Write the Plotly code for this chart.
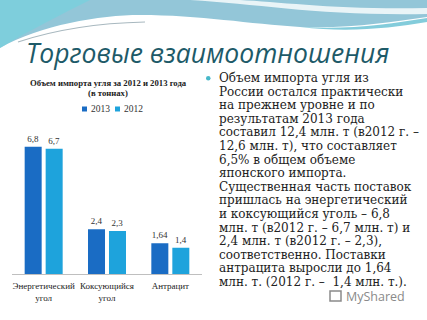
import plotly.graph_objects as go

W, H = 427, 320

categories = ["Энергетический<br>угол", "Коксующийся<br>угол", "Антрацит"]
series_names = ["2013", "2012"]
values_2013 = [6.8, 2.4, 1.64]
values_2012 = [6.7, 2.3, 1.4]
colors = ["#1a6cc4", "#1ea3dc"]

chart_title = ["Объем импорта угля за 2012 и 2013 года", "(в тоннах)"]
slide_title = "Торговые взаимоотношения"
body_lines = [
    "Объем импорта угля из",
    "России остался практически",
    "на прежнем уровне и по",
    "результатам 2013 года",
    "составил 12,4 млн. т (в2012 г. –",
    "12,6 млн. т), что составляет",
    "6,5% в общем объеме",
    "японского импорта.",
    "Существенная часть поставок",
    "пришлась на энергетический",
    "и коксующийся уголь – 6,8",
    "млн. т (в2012 г. – 6,7 млн. т) и",
    "2,4 млн. т (в2012 г. – 2,3),",
    "соответственно. Поставки",
    "антрацита выросли до 1,64",
    "млн. т. (2012 г. –  1,4 млн. т.).",
]


def px(x):
    return x / W


def py(y):
    return 1 - y / H


def fmt(v):
    return str(v).replace(".", ",")


fig = go.Figure()
for name, vals, col in zip(series_names, [values_2013, values_2012], colors):
    fig.add_trace(go.Bar(
        x=categories, y=vals, name=name, marker=dict(color=col, line=dict(width=0)),
        text=[fmt(v) for v in vals], textposition="outside", cliponaxis=False,
        textfont=dict(family="Liberation Serif", size=9, color="#333333"),
        showlegend=False,
    ))


def path(points):
    s = "M {},{}".format(px(points[0][0]), py(points[0][1]))
    for p in points[1:]:
        if len(p) == 6:
            s += " C {},{} {},{} {},{}".format(px(p[0]), py(p[1]), px(p[2]), py(p[3]), px(p[4]), py(p[5]))
        else:
            s += " L {},{}".format(px(p[0]), py(p[1]))
    return s + " Z"


shapes = []
shapes.append(dict(type="path", xref="paper", yref="paper", layer="below",
                   path=path([(0, 0), (427, 0), (427, 17), (390, 22, 350, 29, 300, 27),
                              (250, 24, 200, 15, 140, 15), (100, 15, 40, 25, 0, 48)]),
                   fillcolor="#93c6d8", line=dict(width=0)))
shapes.append(dict(type="path", xref="paper", yref="paper", layer="below",
                   path=path([(0, 0), (90, 0), (60, 15, 30, 30, 0, 48)]),
                   fillcolor="#6fd3e0", opacity=0.6, line=dict(width=0)))
shapes.append(dict(type="path", xref="paper", yref="paper", layer="below",
                   path=path([(190, 0), (260, 4, 320, 16, 427, 14), (427, 8), (340, 10, 280, 2, 240, 0)]),
                   fillcolor="#ffffff", opacity=0.8, line=dict(width=0)))
shapes.append(dict(type="path", xref="paper", yref="paper", layer="below",
                   path=path([(300, 27), (350, 30, 390, 24, 427, 18), (427, 22), (390, 28, 350, 33, 300, 27)]),
                   fillcolor="#4fb6cc", opacity=0.7, line=dict(width=0)))
shapes.append(dict(type="path", xref="paper", yref="paper", layer="below",
                   path="M {},{} C {},{} {},{} {},{}".format(px(18), py(42), px(60), py(28), px(100), py(23), px(145), py(22)),
                   line=dict(color="#a8b8bf", width=1.2)))
# bullet
shapes.append(dict(type="circle", xref="paper", yref="paper",
                   x0=px(206), x1=px(210.5), y0=py(80.5), y1=py(76),
                   fillcolor="#47b8c9", line=dict(width=0)))

annotations = []
annotations.append(dict(text=slide_title, xref="paper", yref="paper", x=px(24), y=py(53),
                        xanchor="left", yanchor="middle", showarrow=False,
                        font=dict(family="Open Sans", size=26.5, color="#1d5a68", style="italic")))
for i, t in enumerate(chart_title):
    annotations.append(dict(text="<b>" + t + "</b>", xref="paper", yref="paper", x=px(108), y=py(83 + 10 * i),
                            xanchor="center", yanchor="middle", showarrow=False,
                            font=dict(family="Liberation Serif", size=8.7, color="#222222")))
# manual compact legend
leg_x = [82, 115]
for name, col, lx in zip(series_names, colors, leg_x):
    shapes.append(dict(type="rect", xref="paper", yref="paper",
                       x0=px(lx), x1=px(lx + 5), y0=py(111.5), y1=py(106.5),
                       fillcolor=col, line=dict(width=0)))
    annotations.append(dict(text=name, xref="paper", yref="paper", x=px(lx + 7), y=py(109),
                            xanchor="left", yanchor="middle", showarrow=False,
                            font=dict(family="Liberation Serif", size=9.5, color="#333333")))
for i, t in enumerate(body_lines):
    annotations.append(dict(text=t, xref="paper", yref="paper", x=px(217), y=py(78 + 13.6 * i),
                            xanchor="left", yanchor="middle", showarrow=False,
                            font=dict(family="DejaVu Serif", size=12, color="#222222")))
annotations.append(dict(text="MyShared", xref="paper", yref="paper", x=px(344), y=py(296),
                        xanchor="left", yanchor="middle", showarrow=False,
                        font=dict(family="Open Sans", size=12.5, color="#8a8a8a")))
shapes.append(dict(type="rect", xref="paper", yref="paper", x0=px(330), x1=px(341), y0=py(301), y1=py(291),
                   fillcolor="rgba(0,0,0,0)", line=dict(color="#8a8a8a", width=1.5)))

fig.update_layout(
    width=W, height=H, margin=dict(l=0, r=0, t=0, b=0),
    paper_bgcolor="white", plot_bgcolor="rgba(0,0,0,0)",
    barmode="group", bargap=0.337, bargroupgap=0.19,
    showlegend=False,
    xaxis=dict(domain=[px(12), px(202)], showline=True, linecolor="#bfbfbf", linewidth=1,
               ticks="outside", ticklen=3, tickcolor="rgba(0,0,0,0)",
               tickfont=dict(family="Liberation Serif", size=9, color="#222222"),
               fixedrange=True),
    yaxis=dict(domain=[py(274), py(120.7)], range=[0, 8.2], visible=False, showgrid=False),
    shapes=shapes, annotations=annotations,
)

fig.write_html("out.html")
